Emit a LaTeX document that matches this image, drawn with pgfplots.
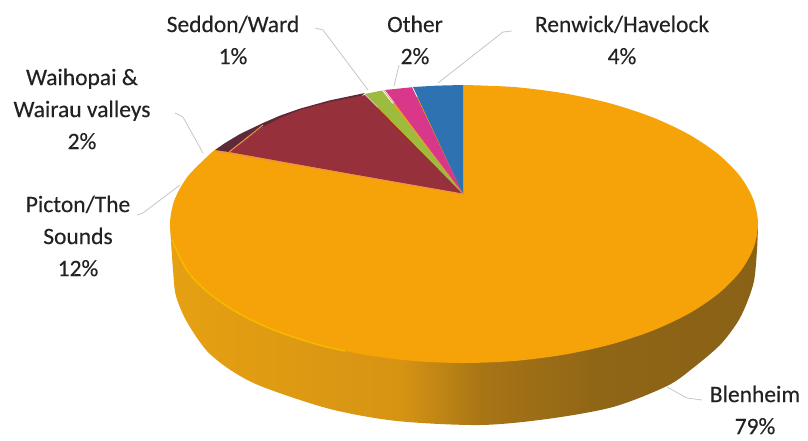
\documentclass[border=0pt]{standalone}
\usepackage{fontspec}
\newfontfamily\labfont[FakeBold=0.25]{Carlito}
\usepackage{pgfplots}
\pgfplotsset{compat=1.18}
\definecolor{topOrange}{HTML}{F5A308}
\definecolor{rimYellow}{HTML}{F9B800}
\definecolor{sideA}{HTML}{E6A012}
\definecolor{sideB}{HTML}{D69413}
\definecolor{sideC}{HTML}{A87516}
\definecolor{sideD}{HTML}{8F6516}
\definecolor{sideE}{HTML}{8A6216}
\definecolor{maroon}{HTML}{96303A}
\definecolor{darkRim}{HTML}{5C2A38}
\definecolor{salmon}{HTML}{EE8F4A}
\definecolor{leaf}{HTML}{9DBB3F}
\definecolor{rose}{HTML}{D8378A}
\definecolor{steel}{HTML}{2F72B2}
\definecolor{leader}{HTML}{C4C6CA}
\definecolor{ink}{HTML}{222222}
% horizontal ramp of the side wall, running from warm orange to brown
\pgfdeclarehorizontalshading{sidewall}{100bp}{color(0bp)=(sideA); color(25bp)=(sideA); color(44.6bp)=(sideB); color(51.5bp)=(sideC); color(61.5bp)=(sideD); color(75bp)=(sideE); color(100bp)=(sideE)}
\pgfplotsset{
  wedge/.style={fill=#1, draw=none, no markers, forget plot},
  edge/.style={draw=#1, line width=1pt, no markers, forget plot},
  callout/.style={draw=leader, line width=0.8pt, no markers, forget plot},
}
\tikzset{lab/.style={align=center, text=ink, font=\labfont\fontsize{23.5}{32}\selectfont, inner sep=0pt}}
\begin{document}
\begin{tikzpicture}
\useasboundingbox (0,0) rectangle (808pt,440pt);
\begin{axis}[at={(0,0)}, anchor=south west, x=1pt, y=1pt,
  xmin=0, xmax=808, ymin=0, ymax=440, y dir=reverse, hide axis, clip=false]

% side wall of the disc: outer edge, closed behind the top face
\addplot[shade, shading=sidewall, draw=none, smooth, no markers, forget plot]
  coordinates {(170,226)(173,270)(176,296)(187,322)(207,351)(232,371)(263,387)(330,409)(397,421)(480,425)(547,419)
  (613,407)(667,386)(693,368)(720,345)(737,323)(746,305)(754,281)(757,250)(758,226)} --cycle;

% Blenheim top face, closed by a chord under the smaller wedges
\addplot[wedge=topOrange, smooth] coordinates {(464,85)(515,87.1)(564.5,93.4)(611,103.6)(653,117.5)
  (689.2,134.6)(718.6,154.5)(740.3,176.5)(753.5,199.9)(758,224)(753.5,248.1)(740.3,271.5)
  (718.6,293.5)(689.2,313.4)(653,330.5)(611,344.4)(564.5,354.6)(515,360.9)(464,363)(413,360.9)
  (363.5,354.6)(317,344.4)(275,330.5)(238.8,313.4)(209.4,293.5)(187.7,271.5)(174.5,248.1)(170,224)
  (174.5,199.9)(187.7,176.5)(209.4,154.5)(215,150)} --cycle;

% bright lip on the near left rim
\addplot[edge=rimYellow, line width=1.5pt, smooth] coordinates {(172,240)(187.7,271.5)(209.4,293.5)(238.8,313.4)(275,330.5)(317,344.4)(345,351)};

% Waihopai and Wairau valleys: dark rim sliver
\addplot[wedge=darkRim] coordinates {(215,150)(225,143)(240,134)(263,123)(280,115.6)(300,108.6)(330,100.3)(365,93)(350,105)(263,127)(229,152)} --cycle;

% Picton/The Sounds
\addplot[wedge=maroon] coordinates {(463,194)(229,152)(263,127)(280,118)(300,110)(330,102)(365,95)} --cycle;
\addplot[edge=salmon] coordinates {(215,151)(463,194)};
\addplot[edge=salmon] coordinates {(229,152)(263,125)};

% Seddon/Ward
\addplot[wedge=leaf] coordinates {(463,194)(365,94)(382,90.5)} --cycle;
% Other
\addplot[wedge=rose] coordinates {(463,194)(385,90)(412,87.2)} --cycle;
% Renwick/Havelock
\addplot[wedge=steel] coordinates {(463,194)(413,87)(438,85.6)(463,85)} --cycle;
\addplot[draw=salmon!70!leaf, line width=0.6pt, no markers, forget plot] coordinates {(463,194)(383.5,90)};

% leader lines
\addplot[callout] coordinates {(315,28)(323,30)(368,90)};
\addplot[callout] coordinates {(399,65)(394,86)};
\addplot[callout] coordinates {(512,31)(503,32)(438,83)};
\addplot[callout] coordinates {(175,113)(183,117)(203,153)};
\addplot[callout] coordinates {(137,215)(143,213)(180,185)};
\addplot[callout] coordinates {(702,400)(687,398)(667,387)};

\node[lab] at (axis cs:233,40) {Seddon/Ward\\1\%};
\node[lab] at (axis cs:415,40) {Other\\2\%};
\node[lab] at (axis cs:622,40) {Renwick/Havelock\\4\%};
\node[lab] at (axis cs:82,109) {Waihopai \&\\Wairau valleys\\2\%};
\node[lab] at (axis cs:78,236) {Picton/The\\Sounds\\12\%};
\node[lab] at (axis cs:755,410) {Blenheim\\79\%};
\end{axis}
\end{tikzpicture}
\end{document}
